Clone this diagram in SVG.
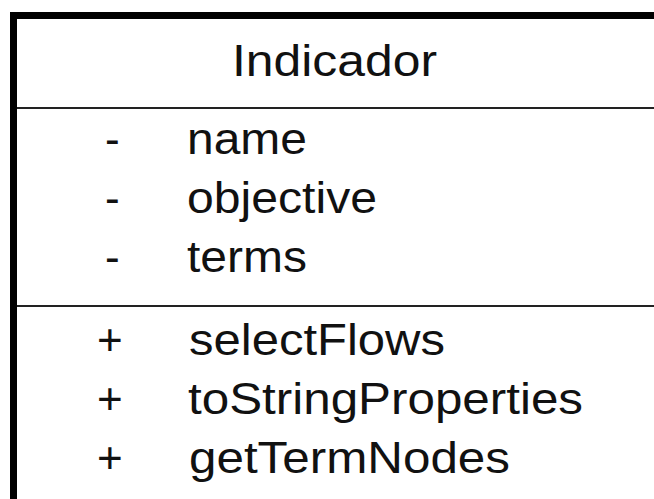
<svg xmlns="http://www.w3.org/2000/svg" width="654" height="499" viewBox="0 0 654 499">
  <style>
    .t { font-family: "Liberation Sans", Arial, Helvetica, sans-serif; font-size: 44px; fill: #111; }
    .frame { fill: none; stroke: #000; stroke-width: 7; }
    .sep { stroke: #222; stroke-width: 2; }
  </style>
  <rect width="654" height="499" fill="#fff"/>
  <g id="class-indicador">
    <!-- class frame: left and top edges run past the canvas -->
    <path class="frame" d="M13.5 510 V15.5 H660"/>
    <line class="sep" x1="17" y1="108" x2="654" y2="108"/>
    <line class="sep" x1="17" y1="306" x2="654" y2="306"/>
    <text class="t" x="232" y="76" textLength="205" lengthAdjust="spacingAndGlyphs">Indicador</text>
    <g id="attributes">
      <text class="t" x="105" y="154">-</text>
      <text class="t" x="187" y="154" textLength="120" lengthAdjust="spacingAndGlyphs">name</text>
      <text class="t" x="105" y="213">-</text>
      <text class="t" x="187" y="213" textLength="190" lengthAdjust="spacingAndGlyphs">objective</text>
      <text class="t" x="105" y="272">-</text>
      <text class="t" x="187" y="272" textLength="120" lengthAdjust="spacingAndGlyphs">terms</text>
    </g>
    <g id="operations">
      <text class="t" x="97" y="355">+</text>
      <text class="t" x="189" y="355" textLength="256" lengthAdjust="spacingAndGlyphs">selectFlows</text>
      <text class="t" x="97" y="414">+</text>
      <text class="t" x="188" y="414" textLength="395" lengthAdjust="spacingAndGlyphs">toStringProperties</text>
      <text class="t" x="97" y="473">+</text>
      <text class="t" x="189" y="473" textLength="321" lengthAdjust="spacingAndGlyphs">getTermNodes</text>
    </g>
  </g>
</svg>
